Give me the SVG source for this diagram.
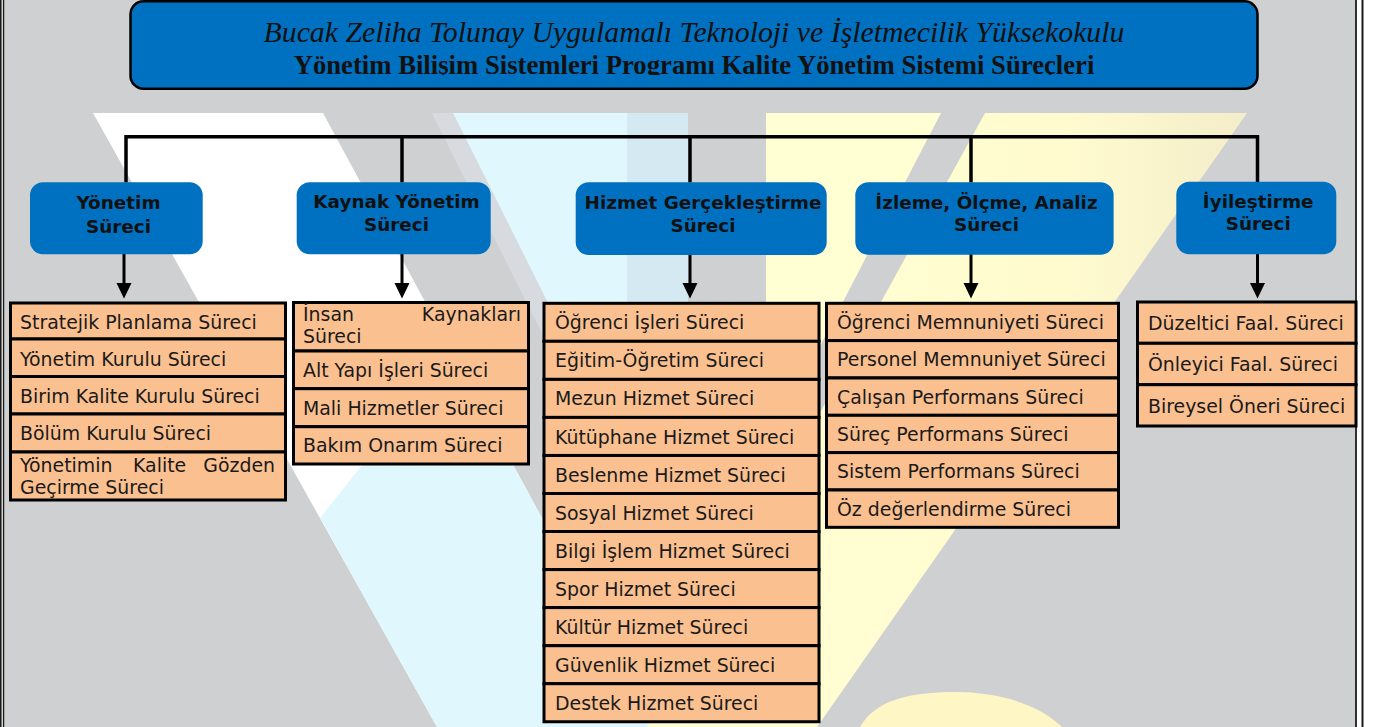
<svg xmlns="http://www.w3.org/2000/svg" width="1373" height="727" viewBox="0 0 1373 727">
<style>
.frame{stroke:#1a1a1a;fill:none}
.wire{stroke:#000;stroke-width:3.5;fill:none}
.stem{stroke:#000;stroke-width:3;fill:none}
.head{fill:#000}
.hdr{fill:#0070C0}
.hdrt{font-family:"DejaVu Sans",Verdana,sans-serif;font-weight:bold;font-size:18.4px;fill:#111;text-anchor:middle}
.item{fill:#FAC090;stroke:#000;stroke-width:3}
.it{font-family:"DejaVu Sans",Verdana,sans-serif;font-size:18.9px;fill:#1a1a1a}
.t1{font-family:"Liberation Serif","Times New Roman",serif;font-style:italic;font-size:29.8px;fill:#111;text-anchor:middle}
.t2{font-family:"Liberation Serif","Times New Roman",serif;font-weight:bold;font-size:26.7px;fill:#111;text-anchor:middle}
</style>
<defs>
<clipPath id="clipT2"><rect x="130" y="0" width="1130" height="75"/></clipPath>
<linearGradient id="yel" x1="0" y1="0" x2="1" y2="0">
<stop offset="0" stop-color="#FFFFD3"/>
<stop offset="0.7" stop-color="#FFFBCF"/>
<stop offset="1" stop-color="#F4EDC9"/>
</linearGradient>
</defs>

<!-- background -->
<rect x="0" y="0" width="1373" height="727" fill="#FFFFFF"/>
<rect x="5" y="0" width="1350" height="727" fill="#CFD0D2"/>

<!-- watermark -->
<g id="watermark">
<polygon points="93,113 323,113 655,727 437,727" fill="#FFFFFF"/>
<polygon points="432,113 453,113 760,727 739,727" fill="#D7DBDF"/>
<polygon points="453,113 627,113 627,461" fill="#E0F7FD"/>
<polygon points="627,113 688,113 688,583 627,461" fill="#D5E9F2"/>
<polygon points="452,352 655,727 437,727 320,518" fill="#E0F7FD"/>
<polygon points="766,113 941,113 766,450" fill="#FFFFD3"/>
<polygon points="985,113 1247,113 817,727 647,727" fill="url(#yel)"/>
<path d="M860,727 C875,700 910,692 955,692 C1000,692 1040,705 1062,727 Z" fill="#FFF6C6"/>
</g>

<!-- page frame -->
<g id="frame">
<line class="frame" x1="0.8" y1="0" x2="0.8" y2="727" stroke-width="1.6"/>
<line class="frame" x1="3.6" y1="0" x2="3.6" y2="727" stroke-width="1.6"/>
<line class="frame" x1="1356" y1="0" x2="1356" y2="727" stroke-width="1.8"/>
<line class="frame" x1="1362.5" y1="0" x2="1362.5" y2="727" stroke-width="2"/>
</g>

<!-- title -->
<g id="title">
<rect x="130.5" y="1.3" width="1127" height="87.4" rx="13" ry="13" fill="#0070C0" stroke="#000" stroke-width="2.5"/>
<text class="t1" x="694" y="41.7">Bucak Zeliha Tolunay Uygulamalı Teknoloji ve İşletmecilik Yüksekokulu</text>
<text class="t2" x="694" y="74" clip-path="url(#clipT2)">Yönetim Bilişim Sistemleri Programı Kalite Yönetim Sistemi Süreçleri</text>
</g>

<!-- connectors -->
<g id="connectors">
<path class="wire" d="M126,182.5 V136.7 H1257.5 V182"/>
<path class="wire" d="M402,136.7 V182.5 M690,136.7 V182.5 M971,136.7 V182.5"/>
<path class="stem" d="M124,254 V285 M402,254 V285 M690,255 V285 M971,254 V285 M1257.5,254 V285"/>
<polygon class="head" points="116.5,283 131.5,283 124,298.5"/>
<polygon class="head" points="394.5,283 409.5,283 402,298.5"/>
<polygon class="head" points="682.5,283 697.5,283 690,298.5"/>
<polygon class="head" points="963.5,283 978.5,283 971,298.5"/>
<polygon class="head" points="1250,283 1265,283 1257.5,298.5"/>
</g>

<!-- header nodes -->
<g id="h-yonetim">
<rect class="hdr" x="30" y="182.3" width="172.7" height="72" rx="13"/>
<text class="hdrt" x="118.5" y="209.3">Yönetim</text>
<text class="hdrt" x="118.5" y="233">Süreci</text>
</g>
<g id="h-kaynak">
<rect class="hdr" x="296.7" y="182.3" width="194" height="72" rx="13"/>
<text class="hdrt" x="396.5" y="208.3">Kaynak Yönetim</text>
<text class="hdrt" x="396.5" y="230.5">Süreci</text>
</g>
<g id="h-hizmet">
<rect class="hdr" x="575.7" y="182.3" width="251" height="72.7" rx="13"/>
<text class="hdrt" x="703" y="209">Hizmet Gerçekleştirme</text>
<text class="hdrt" x="703" y="231.5">Süreci</text>
</g>
<g id="h-izleme">
<rect class="hdr" x="855.3" y="182.3" width="258.3" height="72.5" rx="13"/>
<text class="hdrt" x="986.5" y="208.5">İzleme, Ölçme, Analiz</text>
<text class="hdrt" x="986.5" y="230.7">Süreci</text>
</g>
<g id="h-iyilestirme">
<rect class="hdr" x="1176.3" y="181.7" width="160" height="72.5" rx="13"/>
<text class="hdrt" x="1258.2" y="207.8">İyileştirme</text>
<text class="hdrt" x="1258.2" y="230">Süreci</text>
</g>

<!-- list: Yönetim -->
<g id="l-yonetim">
<rect class="item" x="10.5" y="303" width="275" height="36"/>
<rect class="item" x="10.5" y="339" width="275" height="37.5"/>
<rect class="item" x="10.5" y="376.5" width="275" height="37.5"/>
<rect class="item" x="10.5" y="414" width="275" height="38"/>
<rect class="item" x="10.5" y="452" width="275" height="48"/>
<text class="it" x="20" y="328.5">Stratejik Planlama Süreci</text>
<text class="it" x="20" y="365.5">Yönetim Kurulu Süreci</text>
<text class="it" x="20" y="402.5">Birim Kalite Kurulu Süreci</text>
<text class="it" x="20" y="440">Bölüm Kurulu Süreci</text>
<text class="it" x="20" y="472">Yönetimin</text>
<text class="it" x="133" y="472">Kalite</text>
<text class="it" x="275" y="472" text-anchor="end">Gözden</text>
<text class="it" x="20" y="494">Geçirme Süreci</text>
</g>

<!-- list: Kaynak -->
<g id="l-kaynak">
<rect class="item" x="293.5" y="302.5" width="235" height="48.5"/>
<rect class="item" x="293.5" y="351" width="235" height="37.7"/>
<rect class="item" x="293.5" y="388.7" width="235" height="38"/>
<rect class="item" x="293.5" y="426.7" width="235" height="37.3"/>
<text class="it" x="303" y="321">İnsan</text>
<text class="it" x="521" y="321" text-anchor="end">Kaynakları</text>
<text class="it" x="303" y="343">Süreci</text>
<text class="it" x="303" y="377">Alt Yapı İşleri Süreci</text>
<text class="it" x="303" y="414.7">Mali Hizmetler Süreci</text>
<text class="it" x="303" y="452.4">Bakım Onarım Süreci</text>
</g>

<!-- list: Hizmet -->
<g id="l-hizmet">
<rect class="item" x="544" y="303.3" width="275" height="38.04"/>
<rect class="item" x="544" y="341.3" width="275" height="38.04"/>
<rect class="item" x="544" y="379.4" width="275" height="38.04"/>
<rect class="item" x="544" y="417.4" width="275" height="38.04"/>
<rect class="item" x="544" y="455.5" width="275" height="38.04"/>
<rect class="item" x="544" y="493.5" width="275" height="38.04"/>
<rect class="item" x="544" y="531.5" width="275" height="38.04"/>
<rect class="item" x="544" y="569.6" width="275" height="38.04"/>
<rect class="item" x="544" y="607.6" width="275" height="38.04"/>
<rect class="item" x="544" y="645.7" width="275" height="38.04"/>
<rect class="item" x="544" y="683.7" width="275" height="38.04"/>
<text class="it" x="555" y="329.3">Öğrenci İşleri Süreci</text>
<text class="it" x="555" y="367.4">Eğitim-Öğretim Süreci</text>
<text class="it" x="555" y="405.4">Mezun Hizmet Süreci</text>
<text class="it" x="555" y="443.5">Kütüphane Hizmet Süreci</text>
<text class="it" x="555" y="481.5">Beslenme Hizmet Süreci</text>
<text class="it" x="555" y="519.5">Sosyal Hizmet Süreci</text>
<text class="it" x="555" y="557.6">Bilgi İşlem Hizmet Süreci</text>
<text class="it" x="555" y="595.6">Spor Hizmet Süreci</text>
<text class="it" x="555" y="633.7">Kültür Hizmet Süreci</text>
<text class="it" x="555" y="671.7">Güvenlik Hizmet Süreci</text>
<text class="it" x="555" y="709.7">Destek Hizmet Süreci</text>
</g>

<!-- list: İzleme -->
<g id="l-izleme">
<rect class="item" x="826.5" y="303.3" width="292" height="37.33"/>
<rect class="item" x="826.5" y="340.6" width="292" height="37.33"/>
<rect class="item" x="826.5" y="378" width="292" height="37.33"/>
<rect class="item" x="826.5" y="415.3" width="292" height="37.33"/>
<rect class="item" x="826.5" y="452.6" width="292" height="37.33"/>
<rect class="item" x="826.5" y="490" width="292" height="37.33"/>
<text class="it" x="837" y="329">Öğrenci Memnuniyeti Süreci</text>
<text class="it" x="837" y="366.3">Personel Memnuniyet Süreci</text>
<text class="it" x="837" y="403.6">Çalışan Performans Süreci</text>
<text class="it" x="837" y="441">Süreç Performans Süreci</text>
<text class="it" x="837" y="478.3">Sistem Performans Süreci</text>
<text class="it" x="837" y="515.6">Öz değerlendirme Süreci</text>
</g>

<!-- list: İyileştirme -->
<g id="l-iyilestirme">
<rect class="item" x="1137.5" y="302" width="218.5" height="41.3"/>
<rect class="item" x="1137.5" y="343.3" width="218.5" height="41.4"/>
<rect class="item" x="1137.5" y="384.7" width="218.5" height="41.3"/>
<text class="it" x="1148" y="329.8">Düzeltici Faal. Süreci</text>
<text class="it" x="1148" y="371.2">Önleyici Faal. Süreci</text>
<text class="it" x="1148" y="412.5">Bireysel Öneri Süreci</text>
</g>
</svg>
